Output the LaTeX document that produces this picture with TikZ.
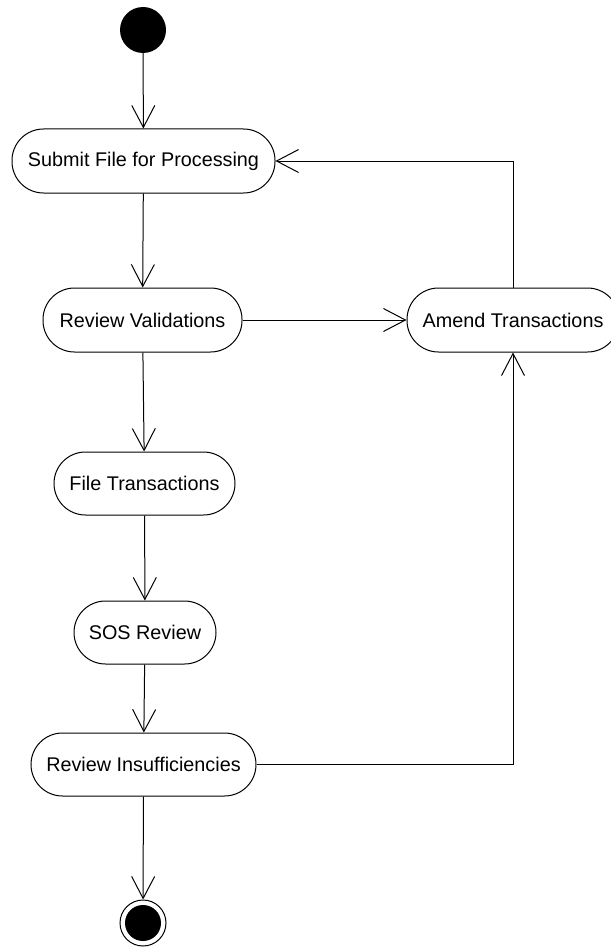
\documentclass[tikz,border=0pt]{standalone}
\usepackage{fontspec}
\setmainfont{Liberation Sans}
\usetikzlibrary{arrows.meta}
\begin{document}
\begin{tikzpicture}[x=1pt,y=-1pt,
  act/.style={draw,line width=1pt,rounded corners=31.5pt,minimum height=64pt,inner sep=0pt,
    font=\fontsize{19.8}{24}\selectfont},
  flow/.style={draw,line width=1pt,-{Straight Barb[length=22pt,width=23pt,line width=1pt]}},
  line/.style={draw,line width=1pt}]
\useasboundingbox (0,0) rectangle (610,947);
\node[circle,fill=black,minimum size=46pt,inner sep=0pt] (start) at (143,30) {};
\node[act,minimum width=263pt] (submit) at (143.5,161) {Submit File for Processing};
\node[act,minimum width=199pt] (rv) at (142.5,320) {Review Validations};
\node[act,minimum width=212pt] (amend) at (513,320) {Amend Transactions};
\node[act,minimum width=181pt,minimum height=63pt] (ft) at (144.5,483.5) {File Transactions};
\node[act,minimum width=142pt,minimum height=63pt] (sos) at (145,632.5) {SOS Review};
\node[act,minimum width=225pt,minimum height=63pt] (ri) at (143.5,764.5) {Review Insufficiencies};
\node[circle,draw,line width=1pt,minimum size=46pt,inner sep=0pt] (end) at (143,923) {};
\node[circle,fill=black,minimum size=36pt,inner sep=0pt] (endin) at (143,923) {};
\path[flow] (start) -- (submit);
\path[flow] (submit) -- (rv);
\path[flow] (rv) -- (amend);
\path[flow] (amend.north) |- (submit.east);
\path[flow] (rv) -- (ft);
\path[flow] (ft) -- (sos);
\path[flow] (sos) -- (ri);
\path[flow] (ri.east) -| (amend.south);
\path[flow] (ri) -- (end);
\end{tikzpicture}
\end{document}
